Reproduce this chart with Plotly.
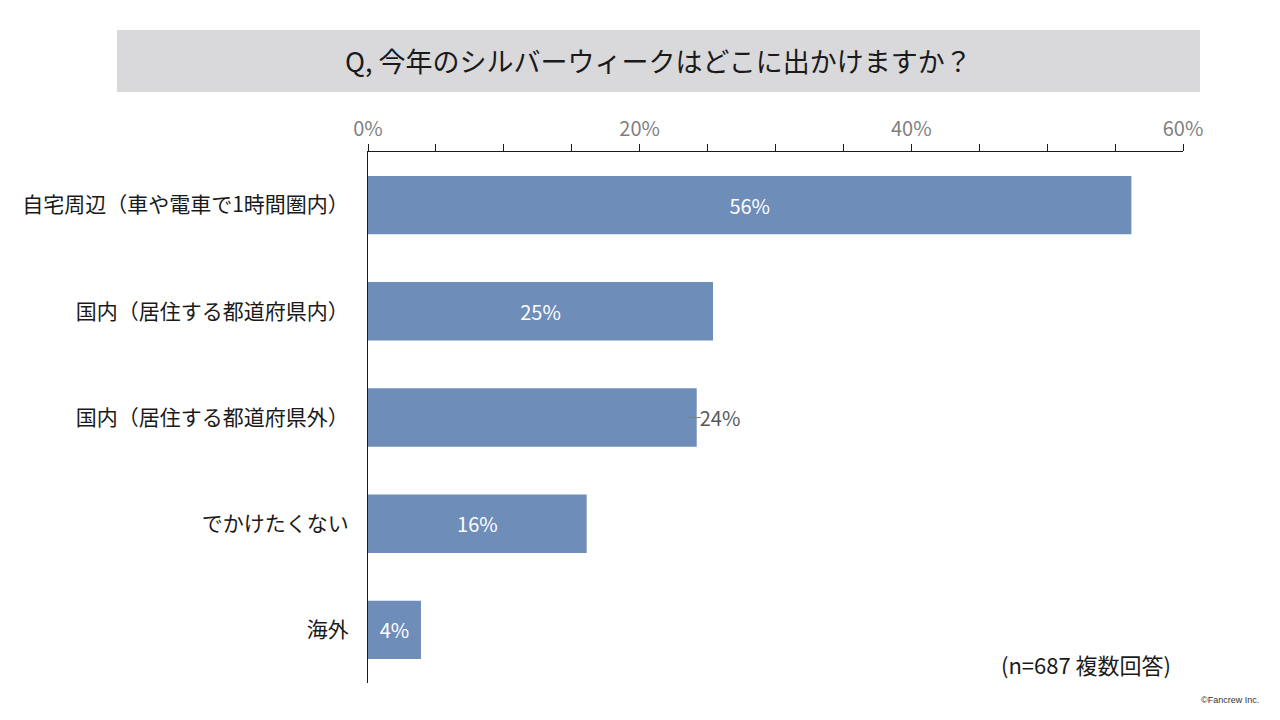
import plotly.graph_objects as go

categories = ["自宅周辺（車や電車で1時間圏内）", "国内（居住する都道府県内）", "国内（居住する都道府県外）", "でかけたくない", "海外"]
values = [56.2, 25.4, 24.2, 16.1, 3.9]
label_pos = ["inside", "inside", "outside", "inside", "inside"]
title_text = "Q, 今年のシルバーウィークはどこに出かけますか？"
note_text = "(n=687 複数回答)"
credit_text = "©Fancrew Inc."

FONT = "Noto Sans CJK JP"
BAR = "#6e8db9"

fig = go.Figure()
fig.add_trace(go.Bar(
    y=categories, x=values, orientation="h",
    marker=dict(color=BAR, line=dict(width=0)),
    width=0.55,
    texttemplate="%{x:.0f}%",
    textposition=label_pos,
    insidetextanchor="middle",
    insidetextfont=dict(color="white", size=20, family=FONT),
    outsidetextfont=dict(color="#595959", size=20, family=FONT),
    cliponaxis=False,
    hoverinfo="skip",
))

# leader line for outside label
for c, v, p in zip(categories, values, label_pos):
    if p == "outside":
        fig.add_shape(type="line", xref="x", yref="y", x0=v - 0.6, x1=v + 0.3,
                      y0=c, y1=c, line=dict(color="#7f7f7f", width=1))

# title box
fig.add_shape(type="rect", xref="paper", yref="paper",
              x0=-0.308, x1=1.0209, y0=1.113, y1=1.2298,
              fillcolor="#d9d9dc", line=dict(width=0), layer="below")
fig.add_annotation(text=title_text, xref="paper", yref="paper", x=0.3564, y=1.1714,
                   showarrow=False, xanchor="center", yanchor="middle",
                   font=dict(size=27, color="#1a1a1a", family=FONT))
fig.add_annotation(text=note_text, xref="paper", yref="paper", x=0.881, y=0.036,
                   showarrow=False, xanchor="center", yanchor="middle",
                   font=dict(size=22, color="#1a1a1a", family=FONT))
fig.add_annotation(text=credit_text, xref="paper", yref="paper", x=1.0577, y=-0.032,
                   showarrow=False, xanchor="center", yanchor="middle",
                   font=dict(size=9, color="#333333", family="Liberation Sans"))

fig.update_layout(
    width=1280, height=720,
    margin=dict(l=360, r=105, t=144, b=45, autoexpand=False),
    paper_bgcolor="white", plot_bgcolor="white",
    showlegend=False,
    font=dict(family=FONT, color="#1a1a1a"),
    xaxis=dict(
        side="top", range=[0, 60], dtick=20, ticksuffix="%",
        showgrid=False, zeroline=False,
        showline=True, linecolor="#1a1a1a", linewidth=1,
        ticks="outside", ticklen=7, tickcolor="#1a1a1a",
        tickfont=dict(size=20, color="#7f7f7f", family=FONT),
        minor=dict(dtick=5, ticks="outside", ticklen=7, tickcolor="#1a1a1a"),
        fixedrange=True,
    ),
    yaxis=dict(
        categoryorder="array", categoryarray=categories, autorange="reversed",
        showgrid=False, zeroline=False,
        showline=True, linecolor="#1a1a1a", linewidth=1,
        ticks="", ticklabelstandoff=14,
        tickfont=dict(size=21, color="#1a1a1a", family=FONT),
        fixedrange=True,
    ),
    bargap=0.45,
)

fig.write_html("out.html")
